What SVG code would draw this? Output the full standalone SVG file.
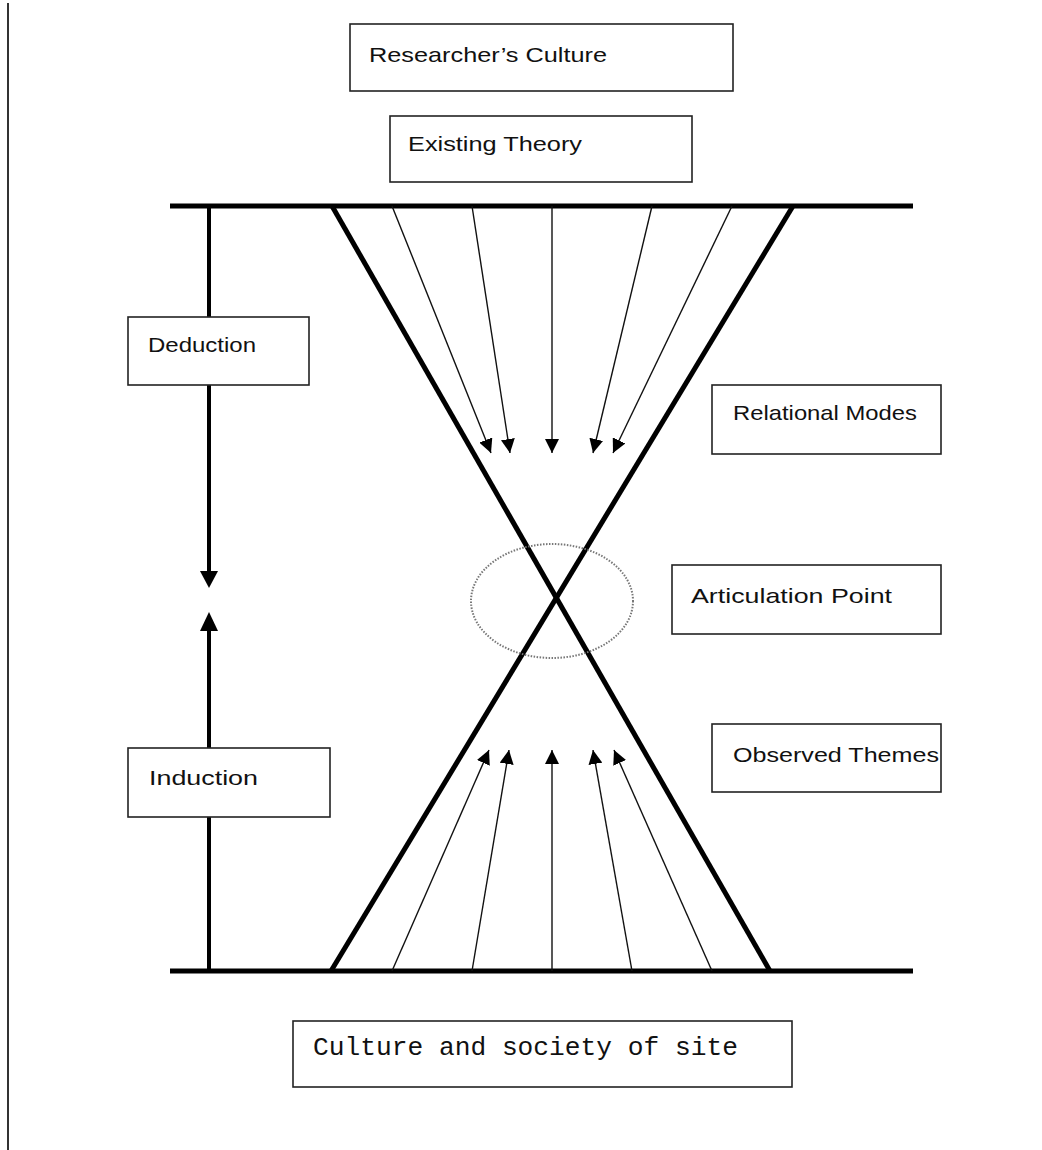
<svg xmlns="http://www.w3.org/2000/svg" width="1042" height="1150" viewBox="0 0 1042 1150">
<defs>
<marker id="ah" viewBox="0 0 10 10" refX="10" refY="5" markerWidth="14" markerHeight="14" markerUnits="userSpaceOnUse" orient="auto">
<path d="M0,0 L10,5 L0,10 z" fill="#000"/>
</marker>
<style>
.box{fill:#fff;stroke:#222;stroke-width:1.6}
.lbl{font-family:"Liberation Sans","Open Sans",sans-serif;font-size:21px;fill:#111}
.mono{font-family:"Liberation Mono","Courier New",monospace;font-size:25px;fill:#111}
.thick{stroke:#000;stroke-width:5;fill:none}
.thin{stroke:#111;stroke-width:1.4;fill:none;marker-end:url(#ah)}
</style>
</defs>
<rect width="1042" height="1150" fill="#fff"/>
<line x1="8" y1="3" x2="8" y2="1150" stroke="#333" stroke-width="2"/>
<g id="connectors">
<line class="thick" x1="170" y1="206" x2="913" y2="206"/>
<line class="thick" x1="170" y1="971" x2="913" y2="971"/>
<line class="thick" x1="332" y1="206" x2="770" y2="971"/>
<line class="thick" x1="793" y1="206" x2="331" y2="971"/>
<line stroke="#000" stroke-width="4" x1="209" y1="206" x2="209" y2="572"/>
<polygon points="200,571 218,571 209,588" fill="#000"/>
<line stroke="#000" stroke-width="4" x1="209" y1="971" x2="209" y2="630"/>
<polygon points="200,631 218,631 209,612" fill="#000"/>
<line class="thin" x1="392" y1="206" x2="491" y2="453"/>
<line class="thin" x1="472" y1="206" x2="510" y2="453"/>
<line class="thin" x1="552" y1="206" x2="552" y2="453"/>
<line class="thin" x1="652" y1="206" x2="593" y2="453"/>
<line class="thin" x1="732" y1="206" x2="613" y2="453"/>
<line class="thin" x1="392" y1="971" x2="489" y2="750"/>
<line class="thin" x1="472" y1="971" x2="509" y2="750"/>
<line class="thin" x1="552" y1="971" x2="552" y2="750"/>
<line class="thin" x1="632" y1="971" x2="593" y2="750"/>
<line class="thin" x1="712" y1="971" x2="614" y2="750"/>
</g>
<g id="articulation-ellipse">
<ellipse cx="552" cy="601" rx="81" ry="57" fill="none" stroke="#777" stroke-width="2" stroke-dasharray="1.5,1.5"/>
</g>
<g id="researchers-culture">
<rect class="box" x="350" y="24" width="383" height="67"/>
<text class="lbl" x="369" y="62" textLength="238" lengthAdjust="spacingAndGlyphs">Researcher’s Culture</text>
</g>
<g id="existing-theory">
<rect class="box" x="390" y="116" width="302" height="66"/>
<text class="lbl" x="408" y="151" textLength="174" lengthAdjust="spacingAndGlyphs">Existing Theory</text>
</g>
<g id="deduction">
<rect class="box" x="128" y="317" width="181" height="68"/>
<text class="lbl" x="148" y="352" textLength="108" lengthAdjust="spacingAndGlyphs">Deduction</text>
</g>
<g id="induction">
<rect class="box" x="128" y="748" width="202" height="69"/>
<text class="lbl" x="149" y="785" textLength="109" lengthAdjust="spacingAndGlyphs">Induction</text>
</g>
<g id="relational-modes">
<rect class="box" x="712" y="385" width="229" height="69"/>
<text class="lbl" x="733" y="420" textLength="184" lengthAdjust="spacingAndGlyphs">Relational Modes</text>
</g>
<g id="articulation-point">
<rect class="box" x="672" y="565" width="269" height="69"/>
<text class="lbl" x="691" y="603" textLength="201" lengthAdjust="spacingAndGlyphs">Articulation Point</text>
</g>
<g id="observed-themes">
<rect class="box" x="712" y="724" width="229" height="68"/>
<text class="lbl" x="733" y="762" textLength="206" lengthAdjust="spacingAndGlyphs">Observed Themes</text>
</g>
<g id="culture-society">
<rect class="box" x="293" y="1021" width="499" height="66"/>
<text class="mono" x="313" y="1055" textLength="425" lengthAdjust="spacingAndGlyphs">Culture and society of site</text>
</g>
</svg>
